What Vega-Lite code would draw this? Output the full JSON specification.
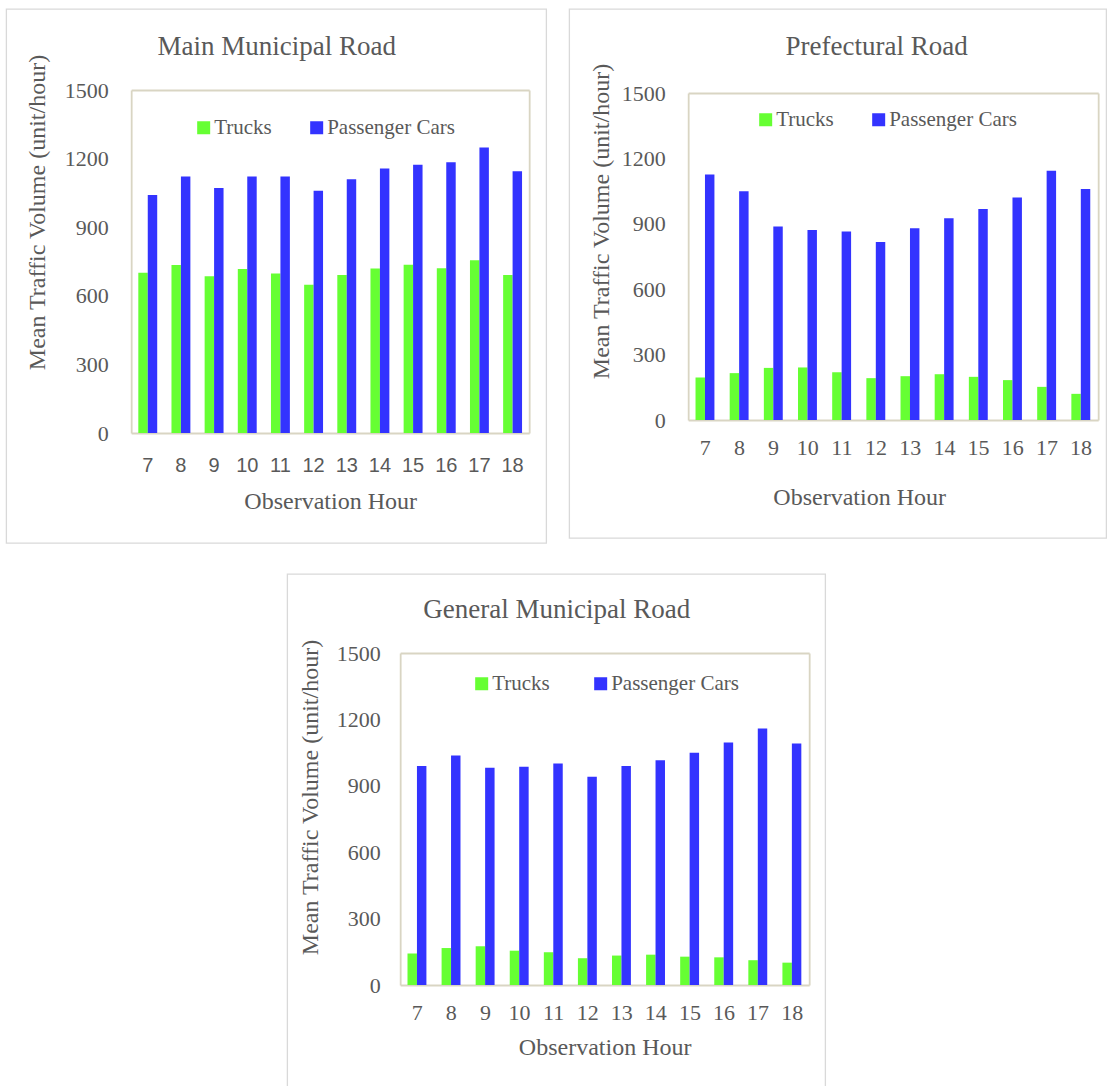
{
  "$schema": "https://vega.github.io/schema/vega-lite/v6.json",
  "background": "white",
  "padding": {"left": 5, "top": 8, "right": 0, "bottom": 0},
  "datasets": {
    "traffic": [
      {"road": "Main Municipal Road", "hour": 7, "type": "Trucks", "value": 701},
      {"road": "Main Municipal Road", "hour": 8, "type": "Trucks", "value": 735},
      {"road": "Main Municipal Road", "hour": 9, "type": "Trucks", "value": 686},
      {"road": "Main Municipal Road", "hour": 10, "type": "Trucks", "value": 717},
      {"road": "Main Municipal Road", "hour": 11, "type": "Trucks", "value": 698},
      {"road": "Main Municipal Road", "hour": 12, "type": "Trucks", "value": 648},
      {"road": "Main Municipal Road", "hour": 13, "type": "Trucks", "value": 691},
      {"road": "Main Municipal Road", "hour": 14, "type": "Trucks", "value": 719},
      {"road": "Main Municipal Road", "hour": 15, "type": "Trucks", "value": 736},
      {"road": "Main Municipal Road", "hour": 16, "type": "Trucks", "value": 720},
      {"road": "Main Municipal Road", "hour": 17, "type": "Trucks", "value": 755},
      {"road": "Main Municipal Road", "hour": 18, "type": "Trucks", "value": 691},
      {"road": "Main Municipal Road", "hour": 7, "type": "Passenger Cars", "value": 1041},
      {"road": "Main Municipal Road", "hour": 8, "type": "Passenger Cars", "value": 1122},
      {"road": "Main Municipal Road", "hour": 9, "type": "Passenger Cars", "value": 1071},
      {"road": "Main Municipal Road", "hour": 10, "type": "Passenger Cars", "value": 1122},
      {"road": "Main Municipal Road", "hour": 11, "type": "Passenger Cars", "value": 1122},
      {"road": "Main Municipal Road", "hour": 12, "type": "Passenger Cars", "value": 1059},
      {"road": "Main Municipal Road", "hour": 13, "type": "Passenger Cars", "value": 1110},
      {"road": "Main Municipal Road", "hour": 14, "type": "Passenger Cars", "value": 1157},
      {"road": "Main Municipal Road", "hour": 15, "type": "Passenger Cars", "value": 1173},
      {"road": "Main Municipal Road", "hour": 16, "type": "Passenger Cars", "value": 1184},
      {"road": "Main Municipal Road", "hour": 17, "type": "Passenger Cars", "value": 1249},
      {"road": "Main Municipal Road", "hour": 18, "type": "Passenger Cars", "value": 1145},
      {"road": "Prefectural Road", "hour": 7, "type": "Trucks", "value": 195},
      {"road": "Prefectural Road", "hour": 8, "type": "Trucks", "value": 215},
      {"road": "Prefectural Road", "hour": 9, "type": "Trucks", "value": 239},
      {"road": "Prefectural Road", "hour": 10, "type": "Trucks", "value": 241},
      {"road": "Prefectural Road", "hour": 11, "type": "Trucks", "value": 219},
      {"road": "Prefectural Road", "hour": 12, "type": "Trucks", "value": 192},
      {"road": "Prefectural Road", "hour": 13, "type": "Trucks", "value": 201},
      {"road": "Prefectural Road", "hour": 14, "type": "Trucks", "value": 210},
      {"road": "Prefectural Road", "hour": 15, "type": "Trucks", "value": 198},
      {"road": "Prefectural Road", "hour": 16, "type": "Trucks", "value": 183},
      {"road": "Prefectural Road", "hour": 17, "type": "Trucks", "value": 152},
      {"road": "Prefectural Road", "hour": 18, "type": "Trucks", "value": 120},
      {"road": "Prefectural Road", "hour": 7, "type": "Passenger Cars", "value": 1126},
      {"road": "Prefectural Road", "hour": 8, "type": "Passenger Cars", "value": 1049},
      {"road": "Prefectural Road", "hour": 9, "type": "Passenger Cars", "value": 888},
      {"road": "Prefectural Road", "hour": 10, "type": "Passenger Cars", "value": 871},
      {"road": "Prefectural Road", "hour": 11, "type": "Passenger Cars", "value": 865},
      {"road": "Prefectural Road", "hour": 12, "type": "Passenger Cars", "value": 817},
      {"road": "Prefectural Road", "hour": 13, "type": "Passenger Cars", "value": 880},
      {"road": "Prefectural Road", "hour": 14, "type": "Passenger Cars", "value": 925},
      {"road": "Prefectural Road", "hour": 15, "type": "Passenger Cars", "value": 968},
      {"road": "Prefectural Road", "hour": 16, "type": "Passenger Cars", "value": 1021},
      {"road": "Prefectural Road", "hour": 17, "type": "Passenger Cars", "value": 1143},
      {"road": "Prefectural Road", "hour": 18, "type": "Passenger Cars", "value": 1060},
      {"road": "General Municipal Road", "hour": 7, "type": "Trucks", "value": 142},
      {"road": "General Municipal Road", "hour": 8, "type": "Trucks", "value": 167},
      {"road": "General Municipal Road", "hour": 9, "type": "Trucks", "value": 175},
      {"road": "General Municipal Road", "hour": 10, "type": "Trucks", "value": 155},
      {"road": "General Municipal Road", "hour": 11, "type": "Trucks", "value": 148},
      {"road": "General Municipal Road", "hour": 12, "type": "Trucks", "value": 121},
      {"road": "General Municipal Road", "hour": 13, "type": "Trucks", "value": 133},
      {"road": "General Municipal Road", "hour": 14, "type": "Trucks", "value": 137},
      {"road": "General Municipal Road", "hour": 15, "type": "Trucks", "value": 128},
      {"road": "General Municipal Road", "hour": 16, "type": "Trucks", "value": 125},
      {"road": "General Municipal Road", "hour": 17, "type": "Trucks", "value": 112},
      {"road": "General Municipal Road", "hour": 18, "type": "Trucks", "value": 101},
      {"road": "General Municipal Road", "hour": 7, "type": "Passenger Cars", "value": 990},
      {"road": "General Municipal Road", "hour": 8, "type": "Passenger Cars", "value": 1037},
      {"road": "General Municipal Road", "hour": 9, "type": "Passenger Cars", "value": 981},
      {"road": "General Municipal Road", "hour": 10, "type": "Passenger Cars", "value": 986},
      {"road": "General Municipal Road", "hour": 11, "type": "Passenger Cars", "value": 1001},
      {"road": "General Municipal Road", "hour": 12, "type": "Passenger Cars", "value": 941},
      {"road": "General Municipal Road", "hour": 13, "type": "Passenger Cars", "value": 990},
      {"road": "General Municipal Road", "hour": 14, "type": "Passenger Cars", "value": 1016},
      {"road": "General Municipal Road", "hour": 15, "type": "Passenger Cars", "value": 1049},
      {"road": "General Municipal Road", "hour": 16, "type": "Passenger Cars", "value": 1096},
      {"road": "General Municipal Road", "hour": 17, "type": "Passenger Cars", "value": 1159},
      {"road": "General Municipal Road", "hour": 18, "type": "Passenger Cars", "value": 1091}
    ]
  },
  "spacing": 29,
  "center": {"row": false, "column": true},
  "resolve": {"scale": {"color": "independent"}, "legend": {"color": "independent"}},
  "vconcat": [
    {
      "spacing": 21,
      "resolve": {"scale": {"color": "independent"}, "legend": {"color": "independent"}},
      "hconcat": [
        {
          "width": 540,
          "height": 534,
          "data": {"name": "traffic"},
          "transform": [{"filter": "datum.road == 'Main Municipal Road'"}],
          "layer": [
            {
              "mark": {"type": "bar"},
              "encoding": {
                "x": {
                  "field": "hour", "type": "ordinal",
                  "scale": {"range": [125, 523], "paddingInner": 0.43, "paddingOuter": 0.215},
                  "axis": {"orient": "bottom", "offset": -110, "labelFont": "Liberation Sans", "labelFontSize": 20, "labelPadding": 38, "labelBaseline": "alphabetic", "title": "Observation Hour", "titleY": 75}
                },
                "xOffset": {"field": "type", "type": "nominal", "scale": {"domain": ["Trucks", "Passenger Cars"], "paddingInner": 0, "paddingOuter": 0}},
                "y": {
                  "field": "value", "type": "quantitative",
                  "scale": {"domain": [0, 1500], "range": [424, 81], "nice": false},
                  "axis": {"orient": "left", "offset": -125, "values": [0, 300, 600, 900, 1200, 1500], "format": "d", "labelPadding": 23, "title": "Mean Traffic Volume (unit/hour)", "titleX": -94, "titleY": 203}
                },
                "color": {
                  "field": "type", "type": "nominal",
                  "scale": {"domain": ["Trucks", "Passenger Cars"], "range": ["#66FF33", "#3333FF"]},
                  "legend": {"orient": "none", "legendX": 187, "legendY": 108, "columnPadding": 34}
                }
              }
            },
            {
              "mark": {"type": "bar", "opacity": 0},
              "encoding": {
                "x": {"field": "hour", "type": "ordinal", "axis": {"orient": "top", "offset": -81, "labels": false, "title": "Main Municipal Road", "titleX": 270, "titleY": -36}},
                "y": {"field": "value", "type": "quantitative", "stack": null, "axis": {"orient": "right", "offset": -17, "labels": false, "title": null, "values": [0, 1500]}}
              }
            }
          ],
          "resolve": {"axis": {"x": "independent", "y": "independent"}}
        },
        {
          "width": 537,
          "height": 529,
          "data": {"name": "traffic"},
          "transform": [{"filter": "datum.road == 'Prefectural Road'"}],
          "layer": [
            {
              "mark": {"type": "bar"},
              "encoding": {
                "x": {
                  "field": "hour", "type": "ordinal",
                  "scale": {"range": [119, 529], "paddingInner": 0.43, "paddingOuter": 0.215},
                  "axis": {"orient": "bottom", "offset": -118, "labelPadding": 34, "labelBaseline": "alphabetic", "title": "Observation Hour", "titleX": 290, "titleY": 84}
                },
                "xOffset": {"field": "type", "type": "nominal", "scale": {"domain": ["Trucks", "Passenger Cars"], "paddingInner": 0, "paddingOuter": 0}},
                "y": {
                  "field": "value", "type": "quantitative",
                  "scale": {"domain": [0, 1500], "range": [411, 84], "nice": false},
                  "axis": {"orient": "left", "offset": -119, "values": [0, 300, 600, 900, 1200, 1500], "format": "d", "labelPadding": 23, "title": "Mean Traffic Volume (unit/hour)", "titleX": -87, "titleY": 212}
                },
                "color": {
                  "field": "type", "type": "nominal",
                  "scale": {"domain": ["Trucks", "Passenger Cars"], "range": ["#66FF33", "#3333FF"]},
                  "legend": {"orient": "none", "legendX": 186, "legendY": 100, "columnPadding": 34}
                }
              }
            },
            {
              "mark": {"type": "bar", "opacity": 0},
              "encoding": {
                "x": {"field": "hour", "type": "ordinal", "axis": {"orient": "top", "offset": -84, "labels": false, "title": "Prefectural Road", "titleX": 307, "titleY": -39}},
                "y": {"field": "value", "type": "quantitative", "stack": null, "axis": {"orient": "right", "offset": -8, "labels": false, "title": null, "values": [0, 1500]}}
              }
            }
          ],
          "resolve": {"axis": {"x": "independent", "y": "independent"}}
        }
      ]
    },
    {
      "width": 538,
      "height": 530,
      "data": {"name": "traffic"},
      "transform": [{"filter": "datum.road == 'General Municipal Road'"}],
      "layer": [
        {
          "mark": {"type": "bar"},
          "encoding": {
            "x": {
              "field": "hour", "type": "ordinal",
              "scale": {"range": [113, 522], "paddingInner": 0.43, "paddingOuter": 0.215},
              "axis": {"orient": "bottom", "offset": -119, "labelPadding": 34, "labelBaseline": "alphabetic", "title": "Observation Hour", "titleY": 69}
            },
            "xOffset": {"field": "type", "type": "nominal", "scale": {"domain": ["Trucks", "Passenger Cars"], "paddingInner": 0, "paddingOuter": 0}},
            "y": {
              "field": "value", "type": "quantitative",
              "scale": {"domain": [0, 1500], "range": [411, 79], "nice": false},
              "axis": {"orient": "left", "offset": -113, "values": [0, 300, 600, 900, 1200, 1500], "format": "d", "labelPadding": 20, "title": "Mean Traffic Volume (unit/hour)", "titleX": -90, "titleY": 223}
            },
            "color": {
              "field": "type", "type": "nominal",
              "scale": {"domain": ["Trucks", "Passenger Cars"], "range": ["#66FF33", "#3333FF"]},
              "legend": {"orient": "none", "legendX": 184, "legendY": 99, "columnPadding": 40}
            }
          }
        },
        {
          "mark": {"type": "bar", "opacity": 0},
          "encoding": {
            "x": {"field": "hour", "type": "ordinal", "axis": {"orient": "top", "offset": -79, "labels": false, "title": "General Municipal Road", "titleX": 269, "titleY": -36}},
            "y": {"field": "value", "type": "quantitative", "stack": null, "axis": {"orient": "right", "offset": -16, "labels": false, "title": null, "values": [0, 1500]}}
          }
        }
      ],
      "resolve": {"axis": {"x": "independent", "y": "independent"}}
    }
  ],
  "config": {
    "font": "Liberation Serif",
    "view": {"stroke": "#D9D9D9", "strokeWidth": 1.3},
    "axis": {
      "domainColor": "#D9D5C3",
      "domainWidth": 1.8,
      "ticks": false,
      "tickSize": 0,
      "minExtent": 0,
      "grid": false,
      "labelAngle": 0,
      "labelFont": "Liberation Serif",
      "labelFontSize": 22,
      "labelColor": "#595959",
      "titleFont": "Liberation Serif",
      "titleFontSize": 24,
      "titleFontWeight": "normal",
      "titleColor": "#595959",
      "titleBaseline": "alphabetic"
    },
    "axisLeft": {"titleBaseline": "middle", "titleAlign": "center"},
    "axisTop": {"titleFontSize": 27, "titleAlign": "center", "titleBaseline": "alphabetic", "titlePadding": 0},
    "legend": {
      "direction": "horizontal",
      "title": null,
      "padding": 0,
      "symbolType": "square",
      "symbolSize": 169,
      "symbolStrokeWidth": 0,
      "labelFont": "Liberation Serif",
      "labelFontSize": 21,
      "labelColor": "#595959",
      "labelOffset": 0
    }
  }
}
